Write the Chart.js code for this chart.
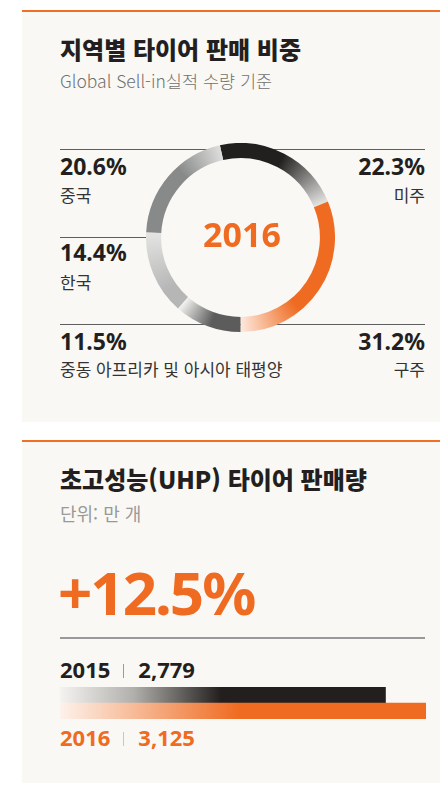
<!DOCTYPE html>
<html lang="ko">
<head>
<meta charset="utf-8">
<script src="https://cdn.jsdelivr.net/npm/chart.js@4/dist/chart.umd.min.js"></script>
<style>
html,body{margin:0;padding:0;background:#fff;}
body{width:440px;height:799px;position:relative;overflow:hidden;font-family:"Noto Sans","Noto Sans CJK KR",sans-serif;color:#231f20;}
.panel{position:absolute;left:22px;width:418px;background:#f9f8f4;border-top:2px solid #f07024;}
.abs{position:absolute;line-height:1;white-space:nowrap;}
.title{font-family:"Noto Sans CJK KR",sans-serif;font-weight:900;font-size:24px;color:#231f20;}
.sub{font-family:"Noto Sans CJK KR",sans-serif;font-weight:300;font-size:17.5px;color:#707070;}
.pct{font-weight:700;font-size:23px;color:#231f20;}
.reg{font-family:"Noto Sans CJK KR",sans-serif;font-size:17px;color:#333;}
.rule{position:absolute;height:1px;background:#5e5e5e;}
.sep{display:inline-block;width:1px;height:14px;margin:0 14px 0 13px;}
.big{font-weight:700;font-size:60px;letter-spacing:-2px;color:#ef6b21;}
.yr{font-weight:700;font-size:22px;}
</style>
</head>
<body>
<div class="panel" style="top:10px;height:410px;"></div>
<div class="panel" style="top:440px;height:341px;"></div>

<div class="abs title" style="left:60px;top:37px;">지역별 타이어 판매 비중</div>
<div class="abs sub" style="left:60px;top:72px;">Global Sell-in실적 수량 기준</div>

<div class="rule" style="left:60px;width:365px;top:149px;"></div>
<div class="rule" style="left:60px;width:90px;top:237px;"></div>
<div class="rule" style="left:60px;width:365px;top:324px;"></div>

<div id="shareLabels"></div>

<div style="position:absolute;left:146px;top:143px;width:189px;height:189px;">
  <canvas id="share" width="189" height="189"></canvas>
</div>
<div class="abs" style="left:242px;top:217px;transform:translateX(-50%);font-weight:700;font-size:34px;color:#ef6b21;">2016</div>

<div class="abs title" style="left:60px;top:467px;">초고성능(UHP) 타이어 판매량</div>
<div class="abs reg" style="left:60px;top:504px;font-size:18px;color:#999;">단위: 만 개</div>
<div id="growth" class="abs big" style="left:58px;top:562px;"></div>
<div class="rule" style="left:60px;width:365px;top:637px;height:2px;background:#999;"></div>

<div id="row0" class="abs yr" style="left:60px;top:658px;color:#231f20;"></div>
<div style="position:absolute;left:60px;top:687px;width:366px;height:32px;">
  <canvas id="uhp" width="366" height="32"></canvas>
</div>
<div id="row1" class="abs yr" style="left:60px;top:726px;color:#ef6b21;"></div>

<script>
// Regional share of tire sales, 2016 (%)
const regions = ['미주', '구주', '중동 아프리카 및 아시아 태평양', '한국', '중국'];
const shares = [22.3, 31.2, 11.5, 14.4, 20.6];

// UHP tire sales (10k units)
const years = ['2015', '2016'];
const uhpSales = [2779, 3125];

// Ring styling: solid colour at the start of each arc, fading to a light tint at its end
const segSolid = ['#221f1f', '#ef6b21', '#5c5c5c', '#b6b6b6', '#888a8a'];
const segFade  = ['#e4e4e2', '#fde9dd', '#f4f4f2', '#e4e4e2', '#dededc'];
const segHold  = [0.5, 0.65, 0.45, 0.25, 0.6];
const ROTATION = -12.6;

// Label placement around the ring
const slots = [
  {side:'right', pTop:155, nTop:186},
  {side:'right', pTop:330, nTop:360},
  {side:'left',  pTop:330, nTop:360},
  {side:'left',  pTop:241, nTop:273},
  {side:'left',  pTop:155, nTop:186}
];
const holder = document.getElementById('shareLabels');
regions.forEach((name, i) => {
  const s = slots[i];
  const pos = s.side === 'left' ? 'left:60px;' : 'right:15px;text-align:right;';
  holder.insertAdjacentHTML('beforeend',
    `<div class="abs pct" style="${pos}top:${s.pTop}px;">${shares[i].toFixed(1)}%</div>` +
    `<div class="abs reg" style="${pos}top:${s.nTop}px;">${name}</div>`);
});

function ringFill(c) {
  const chart = c.chart, a = chart.chartArea, i = c.dataIndex;
  if (!a) return segSolid[i];
  const total = shares.reduce((s, v) => s + v, 0);
  let before = 0;
  for (let k = 0; k < i; k++) before += shares[k];
  const start = (ROTATION - 90) * Math.PI / 180 + before / total * 2 * Math.PI;
  const span = shares[i] / total;
  const cx = (a.left + a.right) / 2, cy = (a.top + a.bottom) / 2;
  const g = chart.ctx.createConicGradient(start, cx, cy);
  g.addColorStop(0, segSolid[i]);
  g.addColorStop(span * segHold[i], segSolid[i]);
  g.addColorStop(span, segFade[i]);
  g.addColorStop(span + (1 - span) / 2, segFade[i]);
  g.addColorStop(1, segSolid[i]);
  return g;
}

new Chart(document.getElementById('share'), {
  type: 'doughnut',
  data: { labels: regions, datasets: [{ data: shares, backgroundColor: ringFill, borderWidth: 0 }] },
  options: {
    responsive: false, animation: false, events: [],
    rotation: ROTATION, cutout: '84%',
    layout: { padding: 0 },
    plugins: { legend: { display: false }, tooltip: { enabled: false } }
  }
});

function barFill(c) {
  const chart = c.chart, a = chart.chartArea, i = c.dataIndex;
  if (!a) return i === 0 ? '#221f1e' : '#ef6b21';
  const g = chart.ctx.createLinearGradient(a.left, 0, a.right, 0);
  if (i === 0) {
    g.addColorStop(0, '#f4f3f1');
    g.addColorStop(0.2, '#b2b0ac');
    g.addColorStop(0.44, '#221f1e');
    g.addColorStop(1, '#221f1e');
  } else {
    g.addColorStop(0, '#fdf2eb');
    g.addColorStop(0.49, '#ef6b21');
    g.addColorStop(1, '#ef6b21');
  }
  return g;
}

new Chart(document.getElementById('uhp'), {
  type: 'bar',
  data: { labels: years, datasets: [{ data: uhpSales, backgroundColor: barFill, borderWidth: 0, barPercentage: 1, categoryPercentage: 1 }] },
  options: {
    indexAxis: 'y', responsive: false, animation: false, events: [],
    layout: { padding: 0 },
    scales: {
      x: { display: false, min: 0, max: Math.max(...uhpSales) },
      y: { display: false }
    },
    plugins: { legend: { display: false }, tooltip: { enabled: false } }
  }
});

const fmt = v => v.toLocaleString('en-US');
document.getElementById('growth').textContent = '+' + ((uhpSales[1] / uhpSales[0] - 1) * 100).toFixed(1) + '%';
document.getElementById('row0').innerHTML = `${years[0]}<span class="sep" style="background:#9a9a9a;"></span>${fmt(uhpSales[0])}`;
document.getElementById('row1').innerHTML = `${years[1]}<span class="sep" style="background:#f4b995;"></span>${fmt(uhpSales[1])}`;
</script>
</body>
</html>
